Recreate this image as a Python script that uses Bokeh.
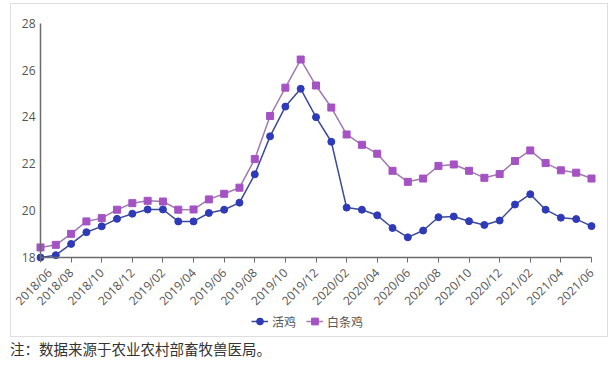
import math
from bokeh.plotting import figure
from bokeh.layouts import column
from bokeh.models import (ColumnDataSource, Range1d, FixedTicker, Legend, LegendItem, Div)
from bokeh.embed import file_html
from bokeh.resources import INLINE

months = ["2018/06", "2018/07", "2018/08", "2018/09", "2018/10", "2018/11", "2018/12",
          "2019/01", "2019/02", "2019/03", "2019/04", "2019/05", "2019/06", "2019/07",
          "2019/08", "2019/09", "2019/10", "2019/11", "2019/12",
          "2020/01", "2020/02", "2020/03", "2020/04", "2020/05", "2020/06", "2020/07",
          "2020/08", "2020/09", "2020/10", "2020/11", "2020/12",
          "2021/01", "2021/02", "2021/03", "2021/04", "2021/05", "2021/06"]

live_chicken = [18.0, 18.1, 18.58, 19.08, 19.33, 19.65, 19.87,
                20.05, 20.05, 19.54, 19.54, 19.9, 20.04, 20.34,
                21.55, 23.17, 24.44, 25.2, 23.99,
                22.94, 20.13, 20.04, 19.80, 19.26, 18.86, 19.15,
                19.72, 19.75, 19.55, 19.39, 19.58,
                20.26, 20.7, 20.04, 19.7, 19.64, 19.34]

dressed_chicken = [18.43, 18.54, 19.01, 19.54, 19.68, 20.04, 20.32,
                   20.42, 20.39, 20.04, 20.05, 20.48, 20.72, 20.98,
                   22.2, 24.04, 25.25, 26.45, 25.34,
                   24.40, 23.25, 22.81, 22.43, 21.7, 21.23, 21.37,
                   21.91, 21.97, 21.7, 21.4, 21.56,
                   22.12, 22.57, 22.03, 21.72, 21.62, 21.37]

series_names = ["活鸡", "白条鸡"]
y_ticks = [18, 20, 22, 24, 26, 28]
note_text = "注：数据来源于农业农村部畜牧兽医局。"

idx = list(range(len(months)))
src = ColumnDataSource(dict(x=idx, live=live_chicken, dressed=dressed_chicken, m=months))

# ---- pixel layout (the frame covers the whole canvas; axes sit at fixed data positions)
W, H = 596, 332
PX_X0, PX_X1 = 29, 580      # canvas x of first / last month
PX_Y_TOP, PX_Y_BOT = 18.7, 253.0   # canvas y (from top) of 28 and 18
n = len(months) - 1
y_lo, y_hi = y_ticks[0], y_ticks[-1]
ppx = (PX_X1 - PX_X0) / n
ppy = (PX_Y_BOT - PX_Y_TOP) / (y_hi - y_lo)
x_start = -PX_X0 / ppx
x_end = n + (W - PX_X1) / ppx
y_end = y_hi + PX_Y_TOP / ppy
y_start = y_lo - (H - PX_Y_BOT) / ppy

p = figure(width=W, height=H, output_backend="svg", toolbar_location=None,
           x_range=Range1d(x_start, x_end), y_range=Range1d(y_start, y_end),
           min_border=0, min_border_left=0, min_border_right=0,
           min_border_top=0, min_border_bottom=0)
p.outline_line_color = None
p.xgrid.grid_line_color = None
p.ygrid.grid_line_color = None

BLUE = "#2E3AB8"
BLUE_LINE = "#3C4A9A"
PURPLE = "#A552C4"
PURPLE_LINE = "#A07AB0"

r1l = p.line("x", "live", source=src, line_color=BLUE_LINE, line_width=1.5)
r1m = p.scatter("x", "live", source=src, marker="circle", size=7,
                fill_color=BLUE, line_color=BLUE)
r2l = p.line("x", "dressed", source=src, line_color=PURPLE_LINE, line_width=1.5)
r2m = p.scatter("x", "dressed", source=src, marker="square", size=7,
                fill_color=PURPLE, line_color=PURPLE)

# axes
p.xaxis.ticker = FixedTicker(ticks=idx[::2])
p.xaxis.major_label_overrides = {i: months[i] for i in idx}
p.xaxis.major_label_orientation = math.pi / 4
p.xaxis.fixed_location = y_lo
p.xaxis.bounds = (0, n)
p.yaxis.ticker = FixedTicker(ticks=y_ticks)
p.yaxis.fixed_location = 0
p.yaxis.bounds = (y_lo, y_hi)
for ax in (p.xaxis[0], p.yaxis[0]):
    ax.axis_line_color = "#6b6b6b"
    ax.axis_line_width = 1.5
    ax.major_label_text_color = "#555555"
    ax.major_label_text_font = "Open Sans"
    ax.major_label_text_font_size = "12px"
    ax.minor_tick_line_color = None
p.xaxis.major_tick_line_color = "#6b6b6b"
p.xaxis.major_tick_in = 0
p.xaxis.major_tick_out = 5
p.yaxis.major_tick_line_color = None
p.yaxis.major_tick_in = 0
p.yaxis.major_tick_out = 0
p.yaxis.major_label_standoff = 5
p.xaxis.major_label_standoff = 8

legend = Legend(items=[LegendItem(label=series_names[0], renderers=[r1l, r1m]),
                       LegendItem(label=series_names[1], renderers=[r2l, r2m])],
                orientation="horizontal", location=(240, 5),
                background_fill_alpha=0, border_line_color=None,
                label_text_font="Noto Sans CJK SC", label_text_font_size="12px",
                label_text_color="#555555", glyph_width=17, spacing=10,
                padding=4, margin=0, label_standoff=4)
p.add_layout(legend, "center")

boxed = column(p, spacing=0, margin=(3, 0, 0, 10),
               styles={"border": "1px solid #dedede"})

note = Div(text=note_text, margin=(2, 0, 0, 10),
           styles={"font-family": "'Noto Sans CJK SC'", "font-size": "14.5px",
                   "color": "#333333"})

layout = column(boxed, note, spacing=0)
open("out.html", "w").write(file_html(layout, INLINE))
